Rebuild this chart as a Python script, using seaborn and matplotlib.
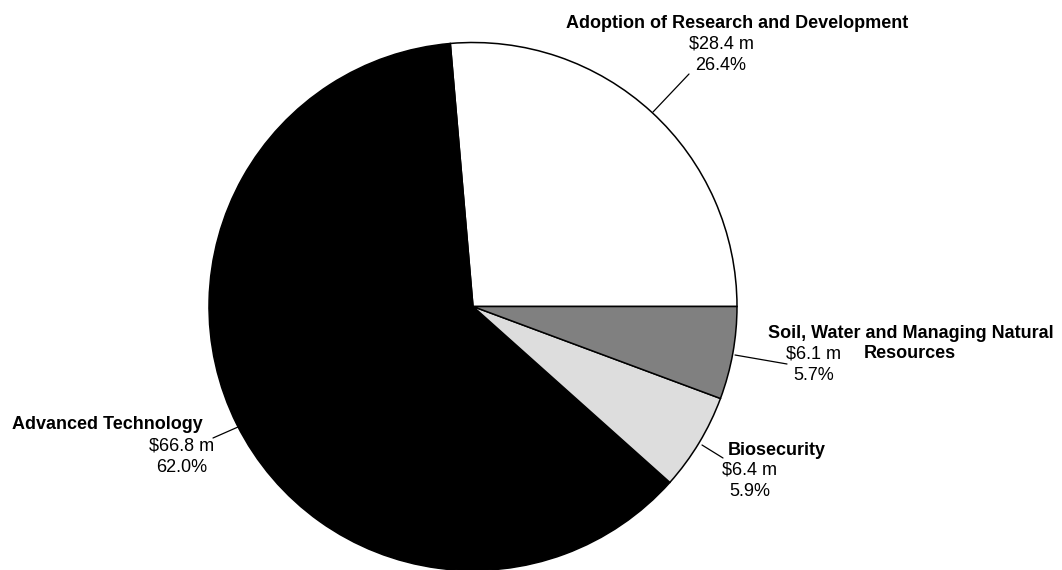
import matplotlib
matplotlib.use("Agg")
import matplotlib.pyplot as plt
import seaborn as sns

# Funding by program area ($ million)
categories = [
    "Adoption of Research and Development",
    "Advanced Technology",
    "Biosecurity",
    "Soil, Water and Managing Natural\nResources",
]
values = [28.4, 66.8, 6.4, 6.1]
colors = ["#ffffff", "#000000", "#dddddd", "#808080"]

sns.set_theme(style="white")
plt.rcParams["font.family"] = ["Liberation Sans", "DejaVu Sans"]

W, H = 1062, 570
fig = plt.figure(figsize=(W / 100, H / 100), dpi=100)
ax = fig.add_axes([0, 0, 1, 1])

def py(y):
    """Convert a top-down pixel row to the axis' bottom-up coordinate."""
    return H - y

cx, cy, r = 473, 306.5, 264
ax.pie(values, colors=colors, startangle=0, counterclock=True,
       center=(cx, py(cy)), radius=r,
       wedgeprops=dict(edgecolor="black", linewidth=1.1))
ax.set_xlim(0, W)
ax.set_ylim(0, H)
ax.set_aspect("equal")
ax.axis("off")

total = sum(values)
pcts = [v / total * 100 for v in values]

# Label layout: (title centre x, title baseline y, value centre x,
# value baseline y, leader start, leader end)
layout = [
    (737.5, 28, 721, 49, (653, 112), (689, 74)),
    (107.5, 429, 181.5, 451, (238, 427), (213, 438)),
    (777, 455, 750, 475, (702, 445), (723, 458)),
    (911, 338, 814, 358, (735, 355), (787, 364)),
]

fs = 13
for cat, v, p, (tx, ty, vx, vy, p0, p1) in zip(categories, values, pcts, layout):
    lines = cat.split("\n")
    ax.text(tx, py(ty), lines[0], ha="center", va="baseline",
            fontsize=fs, fontweight="bold", color="black")
    for k, extra in enumerate(lines[1:], start=1):
        ax.text(tx - 1.5, py(ty + 20 * k), extra, ha="center", va="baseline",
                fontsize=fs, fontweight="bold", color="black")
    ax.text(vx, py(vy), f"${v:.1f} m", ha="center", va="baseline",
            fontsize=fs, color="black")
    ax.text(vx, py(vy + 21.5), f"{p:.1f}%", ha="center", va="baseline",
            fontsize=fs, color="black")
    ax.plot([p0[0], p1[0]], [py(p0[1]), py(p1[1])], color="black", lw=0.9)

fig.savefig("out.png", dpi=100)
